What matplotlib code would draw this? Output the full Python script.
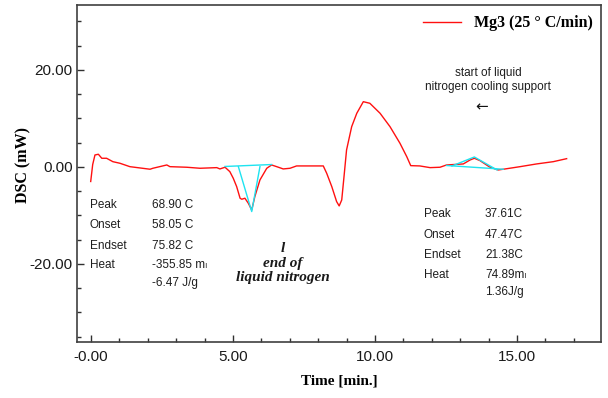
import matplotlib.pyplot as plt
from matplotlib.ticker import MultipleLocator

# DSC curve: time (min) and heat flow (mW)
time = [-0.01, 0.06, 0.14, 0.26, 0.38, 0.55, 0.77, 1.02, 1.37, 2.08, 2.18, 2.67, 2.78,
        3.37, 3.84, 4.43, 4.54, 4.72, 4.89, 5.01, 5.13, 5.25, 5.31, 5.42, 5.54, 5.66,
        5.77, 5.95, 6.19, 6.36, 6.54, 6.77, 7.01, 7.24, 8.18, 8.30, 8.48, 8.65, 8.74,
        8.83, 8.91, 9.00, 9.18, 9.36, 9.59, 9.82, 10.18, 10.53, 10.88, 11.12, 11.26,
        11.58, 11.94, 12.29, 12.52, 13.11, 13.35, 13.50, 13.70, 14.05, 14.34, 14.52,
        15.11, 15.69, 16.28, 16.75]
dsc = [-3.0, 0.5, 2.47, 2.62, 1.79, 1.79, 1.09, 0.76, 0.06, -0.47, -0.27, 0.41, 0.06,
       -0.06, -0.27, -0.14, -0.41, -0.06, -0.97, -2.33, -4.06, -6.45, -6.66, -6.45,
       -7.48, -8.87, -6.12, -2.68, -0.27, 0.41, 0.06, -0.41, -0.27, 0.21, 0.21, -1.30,
       -4.06, -7.15, -8.04, -6.80, -2.0, 3.51, 8.31, 11.07, 13.46, 13.13, 11.07, 8.31,
       4.89, 2.12, 0.27, 0.21, -0.14, -0.06, 0.41, 0.62, 1.44, 1.79, 1.30, -0.06,
       -0.62, -0.47, 0.06, 0.62, 1.09, 1.71]

# cyan construction lines (baseline + tangents) for the two peaks
base1_t = [4.72, 6.36]
base1_y = [0.1, 0.5]
tan1_t = [5.19, 5.66, 5.95]
tan1_y = [0.06, -9.2, 0.06]
base2_t = [12.52, 14.52]
base2_y = [0.3, -0.47]
tan2_t = [12.71, 13.50, 14.30]
tan2_y = [0.2, 2.06, -0.62]

xticks = [0, 5, 10, 15]
xlabels = ["-0.00", "5.00", "10.00", "15.00"]
yticks = [-20, 0, 20]
ylabels = ["-20.00", "0.00", "20.00"]

table1_keys = ["Peak", "Onset", "Endset", "Heat", ""]
table1_vals = ["68.90 C", "58.05 C", "75.82 C", "-355.85 m\u2097", "-6.47 J/g"]
table2_keys = ["Peak", "Onset", "Endset", "Heat", ""]
table2_vals = ["37.61C", "47.47C", "21.38C", "74.89m\u2097", "1.36J/g"]

W, H = 608, 398
fig = plt.figure(figsize=(6.08, 3.98), dpi=100)
ax = fig.add_axes([77.5 / W, 1 - 342 / H, (601 - 77.5) / W, (342 - 5) / H])

ax.plot(time, dsc, color="#ff1010", lw=1.0, label="Mg3 (25 \u00b0 C/min)")
cyan = "#1ee3f0"
ax.plot(base1_t, base1_y, color=cyan, lw=1.0)
ax.plot(tan1_t, tan1_y, color=cyan, lw=1.0)
ax.plot(base2_t, base2_y, color=cyan, lw=1.0)
ax.plot(tan2_t, tan2_y, color=cyan, lw=1.0)

ax.set_xlim(-0.475, 17.96)
ax.set_ylim(-36.1, 33.4)
ax.set_xticks(xticks)
ax.set_xticklabels(xlabels)
ax.set_yticks(yticks)
ax.set_yticklabels(ylabels)
ax.xaxis.set_minor_locator(MultipleLocator(1))
ax.yaxis.set_minor_locator(MultipleLocator(5))
ax.tick_params(which="both", direction="in", colors="#303030", labelsize=11,
               labelcolor="#1a1a1a")
ax.tick_params(which="major", length=5, width=1)
ax.tick_params(which="minor", length=3, width=1)
ax.tick_params(axis="x", pad=6)
for lab in ax.get_xticklabels() + ax.get_yticklabels():
    lab.set_family("Liberation Sans")
for s in ax.spines.values():
    s.set_color("#404040")
    s.set_linewidth(1.2)

serif = "Liberation Serif"
ax.set_xlabel("Time [min.]", family=serif, fontweight="bold", fontsize=11, va="center")
ax.xaxis.set_label_coords(0.5, (342 - 381) / 337)
ax.set_ylabel("DSC (mW)", family=serif, fontweight="bold", fontsize=11.5, va="center")
ax.yaxis.set_label_coords((23 - 77.5) / 523.5, (342 - 165) / 337)

ax.legend(loc="upper right", frameon=False, handlelength=2.4,
          prop={"family": serif, "weight": "bold", "size": 11.5},
          bbox_to_anchor=(1.012, 1.012))

sans = ["Liberation Sans", "DejaVu Sans", "Noto Sans"]
tc = "#1e1e1e"
rows1 = [205, 225, 246, 265, 283]
for k, v, y in zip(table1_keys, table1_vals, rows1):
    fig.text(90 / W, 1 - y / H, k, family=sans, fontsize=8.5, color=tc, va="center")
    fig.text(152 / W, 1 - y / H, v, family=sans, fontsize=8.5, color=tc, va="center")
rows2 = [214, 235, 255, 275, 292]
for k, v, y in zip(table2_keys, table2_vals, rows2):
    fig.text(424 / W, 1 - y / H, k, family=sans, fontsize=8.5, color=tc, va="center")
    fig.text(485 / W, 1 - y / H, v, family=sans, fontsize=8.5, color=tc, va="center")

fig.text(283 / W, 1 - 263 / H, "l\nend of\nliquid nitrogen", family=serif,
         fontweight="bold", style="italic", fontsize=11, color="#1a1a1a",
         ha="center", va="center", linespacing=1.15)
fig.text(488 / W, 1 - 80 / H, "start of liquid\nnitrogen cooling support",
         family=sans, fontsize=8.5, color=tc, ha="center", va="center",
         linespacing=1.2)
fig.text(482 / W, 1 - 107 / H, "\u2190", family="DejaVu Sans", fontsize=11,
         color="#111111", ha="center", va="center")

fig.savefig("out.png", dpi=100)
